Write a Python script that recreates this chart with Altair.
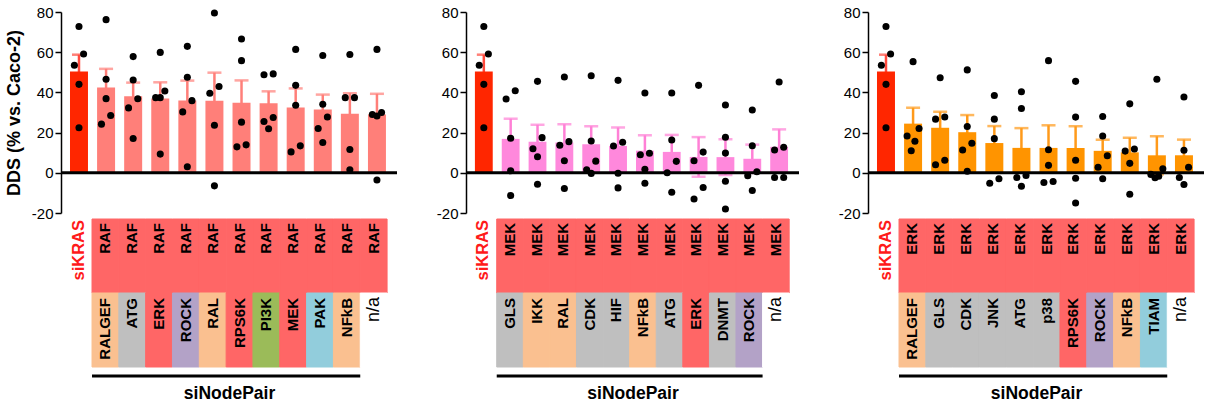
import altair as alt
import pandas as pd

# ---------------- data ----------------
ctrl_label = "siKRAS"
sikras = [72.8, 59.1, 53.5, 44.0, 22.4]

node1 = ["RAF", "MEK", "ERK"]
node2_raf = ["RALGEF", "ATG", "ERK", "ROCK", "RAL", "RPS6K", "PI3K", "MEK", "PAK", "NFkB", "n/a"]
node2_mek = ["GLS", "IKK", "RAL", "CDK", "HIF", "NFkB", "ATG", "ERK", "DNMT", "ROCK", "n/a"]
node2_erk = ["RALGEF", "GLS", "CDK", "JNK", "ATG", "p38", "RPS6K", "ROCK", "NFkB", "TIAM", "n/a"]

dds_raf = [
    [76.2, 46.5, 36.9, 28.5, 24.2],
    [57.8, 46.2, 36.8, 32.3, 17.1],
    [59.9, 40.7, 37.4, 37.4, 9.3],
    [62.9, 47.5, 35.9, 30.3, 3.0],
    [79.5, 42.9, 39.6, 23.7, -6.5],
    [66.6, 55.8, 25.2, 13.9, 12.9],
    [49.2, 48.8, 27.5, 25.5, 21.9],
    [61.4, 43.5, 33.6, 13.4, 10.4],
    [58.4, 34.1, 27.8, 22.0, 15.1],
    [58.9, 37.4, 37.4, 11.6, 1.5],
    [61.4, 30.0, 29.0, 28.3, -3.6],
]
dds_mek = [
    [40.8, 36.7, 17.2, 1.0, -11.3],
    [45.5, 17.5, 12.0, 8.0, -5.7],
    [47.7, 15.5, 13.7, 6.0, -7.8],
    [48.3, 15.8, 5.8, 1.5, -0.3],
    [46.0, 15.2, 13.3, -0.2, -7.5],
    [39.7, 9.7, 9.0, 1.8, -5.2],
    [39.7, 16.3, 5.7, 0.0, -9.7],
    [43.5, 10.3, 6.0, -7.3, -13.0],
    [33.7, 17.7, 9.8, -4.2, -18.0],
    [31.2, 13.5, 0.5, -1.5, -8.8],
    [45.2, 12.7, 11.3, -2.3, -2.3],
]
dds_erk = [
    [55.3, 22.0, 18.3, 15.7, 11.0],
    [47.3, 27.8, 26.7, 6.2, 4.0],
    [51.2, 23.0, 14.7, 11.3, 0.8],
    [38.5, 26.7, 17.0, -3.0, -5.2],
    [40.3, 32.0, -1.3, -2.3, -6.7],
    [55.8, 11.5, 3.7, -4.3, -4.8],
    [45.5, 27.7, 6.2, -2.7, -15.0],
    [28.0, 18.3, 8.5, 2.8, -3.0],
    [34.3, 11.8, 10.8, 4.7, -10.7],
    [46.5, 2.0, -0.8, -1.7, -2.5],
    [37.7, 11.2, 2.8, -2.3, -5.8],
]

panel_node2 = [node2_raf, node2_mek, node2_erk]
panel_dds = [dds_raf, dds_mek, dds_erk]

# ---------------- styles ----------------
FONT = "Liberation Sans"
CTRL_BAR = "#ff2600"
CTRL_ERR = "#ff4a3d"
BAR = ["#ff7f79", "#ff88dc", "#ff9400"]
ERR = ["#ff7f79", "#ff80d6", "#ff9a1a"]
TOP_RED = "#ff6666"
ORANGE, GRAY, RED, PURPLE, GREEN, BLUE, WHITE = (
    "#fac090", "#bfbfbf", "#ff6666", "#b3a2c7", "#9bbb59", "#92cddc", "#ffffff")
node_color = {
    "RALGEF": ORANGE, "RAL": ORANGE, "NFkB": ORANGE, "IKK": ORANGE,
    "ATG": GRAY, "GLS": GRAY, "CDK": GRAY, "HIF": GRAY, "DNMT": GRAY, "JNK": GRAY, "p38": GRAY,
    "ERK": RED, "RPS6K": RED, "MEK": RED,
    "ROCK": PURPLE, "PI3K": GREEN, "PAK": BLUE, "TIAM": BLUE, "n/a": WHITE,
}
NOVIEW = alt.ViewBackground(stroke="transparent", strokeWidth=0)


def jitter(vals, thr=6.0, s=0.17):
    """GraphPad-like spreading of points whose values are close."""
    order = sorted(range(len(vals)), key=lambda i: -vals[i])
    clusters = []
    for i in order:
        if clusters and vals[clusters[-1][-1]] - vals[i] < thr:
            clusters[-1].append(i)
        else:
            clusters.append([i])
    pattern = {1: [0], 2: [1, -1], 3: [1, -1, 0], 4: [1.3, -1.3, 0.4, -0.4],
               5: [1.3, -1.3, 0.4, -0.4, 0]}
    off = [0.0] * len(vals)
    for c in clusters:
        for j, i in enumerate(c):
            off[i] = pattern[len(c)][j] * s
    return off


rows = []
for p in range(3):
    groups = [sikras] + panel_dds[p]
    for i, vals in enumerate(groups):
        for v, o in zip(vals, jitter(vals)):
            rows.append(dict(panel=p, idx=i, value=v, xj=i + o))
pts = pd.DataFrame(rows)

tab = []
for p in range(3):
    for i, n2 in enumerate(panel_node2[p], start=1):
        tab.append(dict(panel=p, idx=i, node1=node1[p], node2=n2))
tabdf = pd.DataFrame(tab)
ctrldf = pd.DataFrame([dict(idx=0, label=ctrl_label)])

XS = alt.Scale(domain=[-0.664, 11.74], nice=False, zero=False)
YS = alt.Scale(domain=[-20, 80], nice=False, zero=False)
TXS = alt.Scale(domain=[-0.656, 11.87], nice=False, zero=False)
TYS = alt.Scale(domain=["top", "bot"], paddingInner=0, paddingOuter=0)
CS = alt.Scale(domain=list(node_color.keys()), range=list(node_color.values()))


def top_chart(p, w, title):
    base = alt.Chart(pts).transform_filter(alt.datum.panel == p)
    stats = base.transform_aggregate(
        m="mean(value)", se="stderr(value)", groupby=["idx"]
    ).transform_calculate(
        lo="datum.m - datum.se", hi="datum.m + datum.se",
        xl="datum.idx - 0.332", xr="datum.idx + 0.332",
    )
    ecol = alt.condition(alt.datum.idx == 0, alt.value(CTRL_ERR), alt.value(ERR[p]))
    bcol = alt.condition(alt.datum.idx == 0, alt.value(CTRL_BAR), alt.value(BAR[p]))
    yax = alt.Axis(
        values=[-20, 0, 20, 40, 60, 80], title=title, titleFontSize=18,
        titleFontWeight="bold", titleColor="black", titlePadding=8,
        labelFontSize=15, labelColor="black", labelPadding=2,
        labelExpr="datum.value < 0 ? '-' + abs(datum.value) : datum.label",
        tickSize=6, tickWidth=1.5, tickColor="black",
        domainWidth=1.5, domainColor="black", grid=False,
    )
    whisk = stats.mark_rule(strokeWidth=2.5).encode(
        x=alt.X("idx:Q", scale=XS, axis=None),
        y=alt.Y("lo:Q", scale=YS, axis=yax), y2="hi:Q", color=ecol)
    cap_hi = stats.mark_tick(orient="horizontal", size=14, thickness=2.5).encode(
        x=alt.X("idx:Q", scale=XS, axis=None), y=alt.Y("hi:Q", scale=YS, axis=yax), color=ecol)
    cap_lo = stats.mark_tick(orient="horizontal", size=14, thickness=2.5).encode(
        x=alt.X("idx:Q", scale=XS, axis=None), y=alt.Y("lo:Q", scale=YS, axis=yax), color=ecol)
    bars = stats.mark_bar().encode(
        x=alt.X("xl:Q", scale=XS, axis=None), x2="xr:Q",
        y=alt.Y("m:Q", scale=YS, axis=yax), y2=alt.datum(0), color=bcol)
    zero = base.transform_aggregate(n="count()").mark_rule(
        color="black", strokeWidth=3).encode(y=alt.datum(0))
    dots = base.mark_circle(size=50, color="black", opacity=1).encode(
        x=alt.X("xj:Q", scale=XS, axis=None), y=alt.Y("value:Q", scale=YS, axis=yax))
    return alt.layer(whisk, cap_hi, cap_lo, bars, zero, dots).properties(
        width=w, height=201, view=NOVIEW)


def table_chart(p, w):
    base = alt.Chart(tabdf).transform_filter(alt.datum.panel == p).transform_calculate(
        xl="datum.idx - 0.5", xr="datum.idx + 0.5")
    xax = alt.Axis(title="siNodePair", labels=False, ticks=False, domain=False, grid=False,
                   titleFontSize=17.5, titleFontWeight="bold", titleColor="black",
                   titlePadding=17)
    top = base.transform_calculate(row="'top'")
    bot = base.transform_calculate(row="'bot'")
    X = lambda f: alt.X(f, scale=TXS, axis=xax)
    Yb = alt.Y("row:N", scale=TYS, axis=None)
    Yt = alt.Y("row:N", scale=TYS, axis=None, bandPosition=0)
    toprect = top.mark_rect(color=TOP_RED, stroke=TOP_RED, strokeWidth=1).encode(
        x=X("xl:Q"), x2="xr:Q", y=Yb)
    botrect = bot.mark_rect(strokeWidth=1).encode(
        x=X("xl:Q"), x2="xr:Q", y=Yb,
        color=alt.Color("node2:N", scale=CS, legend=None),
        stroke=alt.Stroke("node2:N", scale=CS, legend=None))
    txt = dict(angle=270, align="right", baseline="middle", color="black")
    t1 = top.mark_text(dx=-4, fontWeight="bold", fontSize=15, **txt).encode(
        x=X("idx:Q"), y=Yt, text="node1:N")
    t2 = bot.transform_filter(alt.datum.node2 != "n/a").mark_text(
        dx=-5, fontWeight="bold", fontSize=15, **txt).encode(
        x=X("idx:Q"), y=Yt, text="node2:N")
    t3 = bot.transform_filter(alt.datum.node2 == "n/a").mark_text(
        dx=-4, fontWeight="normal", fontSize=18, **txt).encode(
        x=X("idx:Q"), y=Yt, text="node2:N")
    ctrl = alt.Chart(ctrldf).transform_calculate(row="'top'").mark_text(
        angle=270, align="right", baseline="middle", fontSize=16.5, fontWeight="bold",
        color="#ff1a1a", dx=-1).encode(x=X("idx:Q"), y=Yt, text="label:N")
    bracket = base.transform_filter(alt.datum.node2 != "n/a").transform_aggregate(
        a="min(idx)", b="max(idx)").transform_calculate(
        bl="datum.a - 0.5", br="datum.b + 0.5").mark_rule(
        color="black", strokeWidth=3).encode(
        x=X("bl:Q"), x2="br:Q", y=alt.value(157))
    return alt.layer(toprect, botrect, t1, t2, t3, ctrl, bracket).properties(
        width=w, height=148, view=NOVIEW)


widths = [336, 333, 336]
titles = ["DDS (% vs. Caco-2)", "", ""]
panels = [
    alt.vconcat(top_chart(p, widths[p], titles[p]), table_chart(p, widths[p]),
                spacing=6, bounds="flush")
    for p in range(3)
]

chart = alt.hconcat(*panels, spacing=37).configure_view(
    stroke="transparent", strokeWidth=0).configure(font=FONT)

chart.save("out.html", embed_options={"renderer": "svg", "actions": False})
